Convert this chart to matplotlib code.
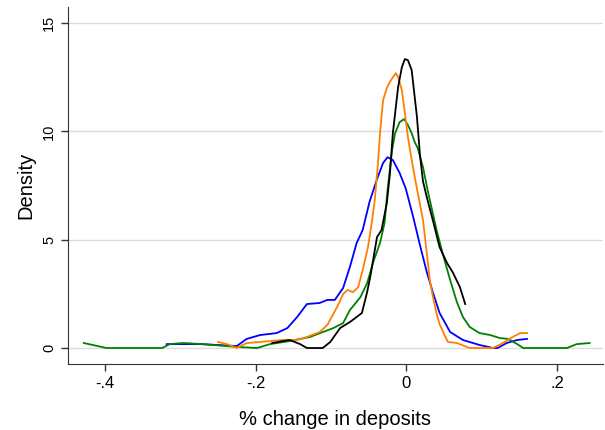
import matplotlib
matplotlib.use('Agg')
import matplotlib.pyplot as plt

plt.rcParams['font.family'] = ['Liberation Sans', 'DejaVu Sans']

# kernel density curves (x = % change, y = density)
black_x = [-0.178, -0.164, -0.155, -0.141, -0.132, -0.111, -0.101, -0.088, -0.075, -0.068, -0.059,
           -0.052, -0.048, -0.039, -0.033, -0.026, -0.022, -0.018, -0.011, -0.006, -0.002, 0.002,
           0.007, 0.010, 0.014, 0.018, 0.022, 0.027, 0.035, 0.044, 0.054, 0.062, 0.071, 0.078]
black_y = [0.23, 0.32, 0.37, 0.18, 0.0, 0.0, 0.28, 0.92, 1.20, 1.38, 1.62,
           2.60, 3.28, 5.12, 5.45, 6.69, 8.0, 9.92, 12.05, 12.97, 13.34, 13.29,
           12.83, 11.9, 10.66, 8.9, 7.7, 6.97, 5.91, 4.66, 3.92, 3.46, 2.81, 2.03]

orange_x = [-0.250, -0.238, -0.225, -0.212, -0.194, -0.164, -0.145, -0.132, -0.115, -0.105, -0.092,
            -0.084, -0.078, -0.071, -0.064, -0.058, -0.051, -0.046, -0.042, -0.038, -0.035, -0.031,
            -0.026, -0.022, -0.018, -0.014, -0.011, -0.006, -0.002, 0.002, 0.007, 0.011, 0.016,
            0.022, 0.027, 0.031, 0.035, 0.040, 0.044, 0.055, 0.067, 0.084, 0.115, 0.128, 0.141,
            0.151, 0.160]
orange_y = [0.28, 0.18, 0.0, 0.23, 0.28, 0.37, 0.37, 0.51, 0.74, 1.06, 1.89,
            2.49, 2.68, 2.58, 2.81, 3.60, 4.66, 5.77, 6.83, 8.4, 9.92, 11.44,
            12.0, 12.28, 12.5, 12.69, 12.5, 11.9, 10.84, 9.74, 8.68, 7.9, 7.0,
            5.91, 4.4, 3.14, 2.4, 1.6, 1.1, 0.28, 0.23, 0.0, 0.0, 0.23, 0.51,
            0.69, 0.69]

green_x = [-0.428, -0.398, -0.324, -0.314, -0.296, -0.270, -0.225, -0.198, -0.181, -0.155, -0.128,
           -0.097, -0.084, -0.075, -0.061, -0.052, -0.044, -0.035, -0.029, -0.025, -0.019, -0.015,
           -0.009, -0.003, 0.002, 0.007, 0.011, 0.015, 0.022, 0.029, 0.040, 0.048, 0.058,
           0.067, 0.075, 0.084, 0.097, 0.111, 0.124, 0.135, 0.147, 0.155, 0.213, 0.226, 0.243]
green_y = [0.23, 0.0, 0.0, 0.18, 0.23, 0.18, 0.05, 0.0, 0.18, 0.32, 0.51,
           0.92, 1.15, 1.75, 2.35, 3.0, 3.97, 4.85, 5.77, 7.3, 9.14, 9.92,
           10.43, 10.57, 10.29, 9.92, 9.51, 9.23, 8.35, 7.15, 5.45, 4.38, 3.14,
           2.12, 1.43, 0.97, 0.69, 0.60, 0.46, 0.42, 0.18, 0.0, 0.0, 0.18, 0.23]

blue_x = [-0.318, -0.296, -0.274, -0.251, -0.225, -0.212, -0.194, -0.172, -0.158, -0.145, -0.132,
          -0.115, -0.105, -0.095, -0.084, -0.075, -0.066, -0.058, -0.049, -0.039, -0.031, -0.025,
          -0.018, -0.009, -0.001, 0.009, 0.018, 0.027, 0.035, 0.044, 0.058, 0.075, 0.097,
          0.115, 0.121, 0.133, 0.147, 0.160]
blue_y = [0.18, 0.18, 0.18, 0.14, 0.09, 0.42, 0.60, 0.69, 0.92, 1.43, 2.03,
          2.08, 2.22, 2.22, 2.77, 3.74, 4.85, 5.45, 6.74, 7.80, 8.54, 8.81,
          8.68, 8.08, 7.38, 6.05, 4.75, 3.51, 2.58, 1.62, 0.74, 0.37, 0.14,
          0.0, 0.0, 0.23, 0.37, 0.42]

x_ticks = [-0.4, -0.2, 0, 0.2]
x_labels = ['-.4', '-.2', '0', '.2']
y_ticks = [0, 5, 10, 15]

fig = plt.figure(figsize=(6.05, 4.3), dpi=100)
ax = fig.add_axes([0.1124, 0.1535, 0.884, 0.830])

for yt in y_ticks:
    ax.axhline(yt, color='#dcdcdc', linewidth=1, zorder=0)

ax.plot(blue_x, blue_y, color='#0000ff', linewidth=1.3, solid_joinstyle='round')
ax.plot(green_x, green_y, color='#008000', linewidth=1.3, solid_joinstyle='round')
ax.plot(orange_x, orange_y, color='#ff8000', linewidth=1.3, solid_joinstyle='round')
ax.plot(black_x, black_y, color='black', linewidth=1.3, solid_joinstyle='round')

ax.set_xlim(-0.449, 0.2606)
ax.set_ylim(-0.738, 15.74)

ax.set_xticks(x_ticks)
ax.set_xticklabels(x_labels, fontsize=12)
ax.set_yticks(y_ticks)
ax.set_yticklabels([str(v) for v in y_ticks], fontsize=10.5, rotation=90, va='center')

ax.spines['top'].set_visible(False)
ax.spines['right'].set_visible(False)
ax.spines['left'].set_color('#333333')
ax.spines['bottom'].set_color('#333333')
ax.tick_params(direction='out', length=5, width=1, color='#333333')

ax.set_xlabel('% change in deposits', fontsize=14.5, labelpad=14)
ax.set_ylabel('Density', fontsize=14.5, labelpad=5)

fig.savefig('out.png', dpi=100)
